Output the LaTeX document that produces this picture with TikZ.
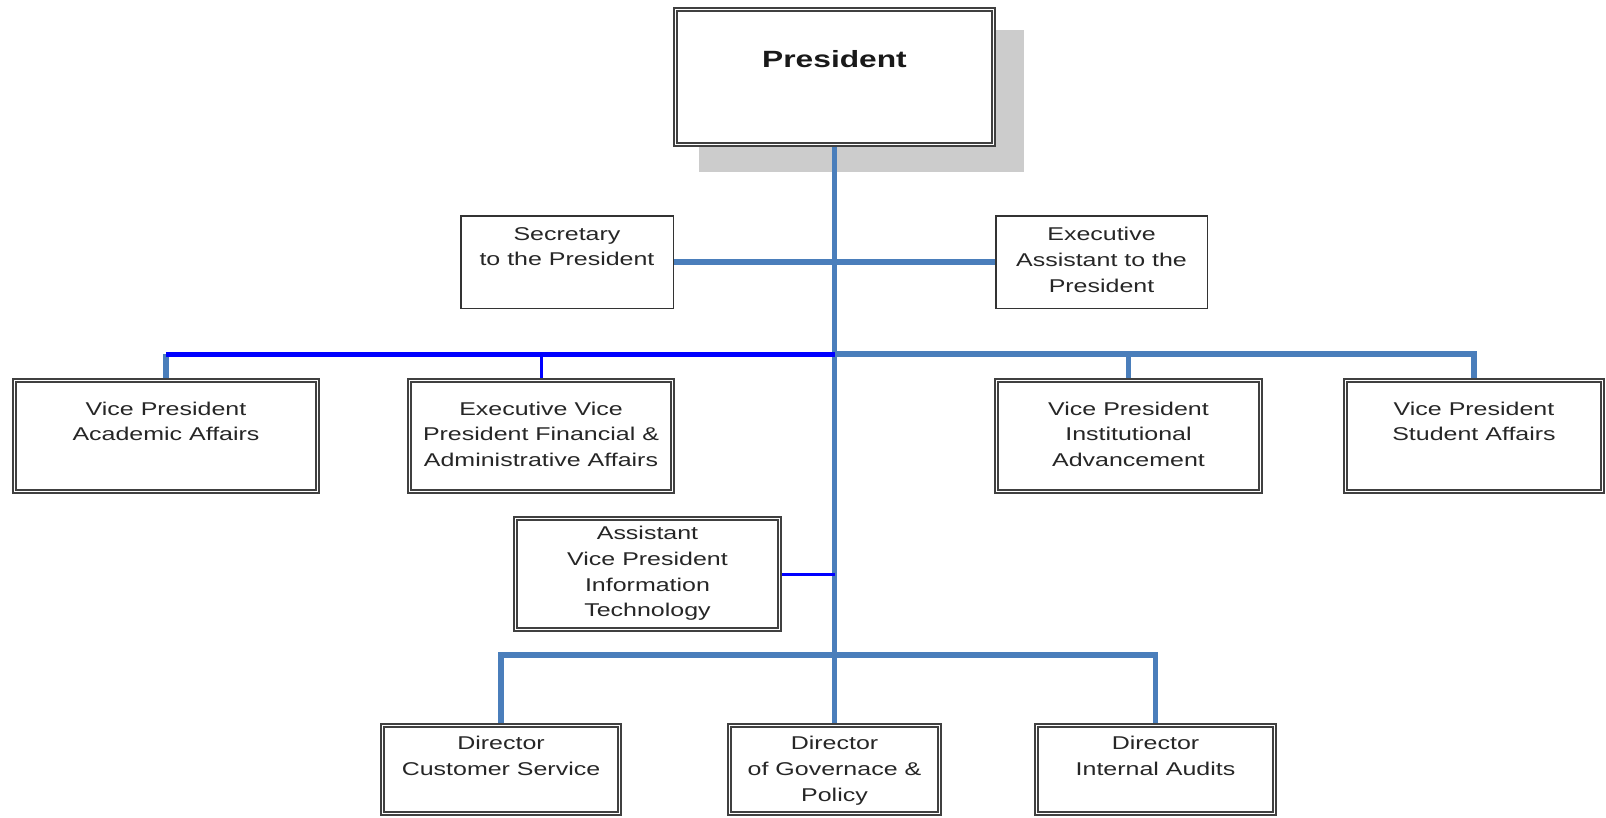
\documentclass[tikz,border=0pt]{standalone}
\usepackage{fontspec}
\setmainfont{Liberation Sans}[FakeStretch=1.35]
\usetikzlibrary{calc}
\pgfdeclarelayer{shadowlayer}
\pgfdeclarelayer{linelayer}
\pgfsetlayers{shadowlayer,linelayer,main}
\definecolor{steelc}{HTML}{4A7EBB}
\definecolor{purec}{HTML}{0000FF}
\tikzset{
  dbox/.style={draw=black!75, double=white, double distance=1.6pt, line width=1.6pt, fill=white, inner sep=0pt},
  sbox/.style={draw=black!80, line width=1.5pt, fill=white, inner sep=0pt},
  lbl/.style={anchor=north, align=center, inner sep=0pt, font=\fontsize{18.5}{25.7}\selectfont, text=black!85},
  boldlbl/.style={anchor=north, align=center, inner sep=0pt, font=\fontsize{23.5}{28}\selectfont\bfseries, text=black!90},
  steel/.style={draw=steelc, line width=5.5pt},
  pure/.style={draw=purec, line width=5pt},
  purethin/.style={draw=purec, line width=3pt},
}
\begin{document}
\begin{tikzpicture}[x=1pt, y=-1pt]
\begin{pgfonlayer}{shadowlayer}
  \path[use as bounding box, fill=white] (0,0) rectangle (1606,817);
\end{pgfonlayer}

% boxes
\node[dbox, minimum width=318.2pt, minimum height=135.2pt] (pres) at (834.5,77) {};
\node[sbox, minimum width=212.5pt, minimum height=92.5pt] (sec) at (567,262) {};
\node[sbox, minimum width=211.5pt, minimum height=92.5pt] (ea) at (1101.5,262) {};
\node[dbox, minimum width=303.2pt, minimum height=111.2pt] (vpa) at (166,436) {};
\node[dbox, minimum width=263.2pt, minimum height=111.2pt] (evp) at (541,436) {};
\node[dbox, minimum width=264.2pt, minimum height=111.2pt] (vpi) at (1128.5,436) {};
\node[dbox, minimum width=257.2pt, minimum height=111.2pt] (vps) at (1474,436) {};
\node[dbox, minimum width=264.2pt, minimum height=111.2pt] (avp) at (647.5,574) {};
\node[dbox, minimum width=237.2pt, minimum height=88.2pt] (dcs) at (501,769.5) {};
\node[dbox, minimum width=210.2pt, minimum height=88.2pt] (dgp) at (834.5,769.5) {};
\node[dbox, minimum width=238.2pt, minimum height=88.2pt] (dia) at (1155.5,769.5) {};

% shadow of the president box
\begin{pgfonlayer}{shadowlayer}
  \fill[black!20] ([xshift=24.6pt,yshift=-26.4pt]pres.south west) rectangle ([xshift=29.4pt,yshift=-21.6pt]pres.north east);
\end{pgfonlayer}

% labels
\node[boldlbl] (tpres) at (834.5,50) {President};
\node[lbl] (tsec) at (567,227) {Secretary\\to the President};
\node[lbl] (tea) at (1101.5,227) {Executive\\Assistant to the\\President};
\node[lbl] (tvpa) at (166,401.5) {Vice President\\Academic Affairs};
\node[lbl] (tevp) at (541,401.5) {Executive Vice\\President Financial \&\\Administrative Affairs};
\node[lbl] (tvpi) at (1128.5,401.5) {Vice President\\Institutional\\Advancement};
\node[lbl] (tvps) at (1474,401.5) {Vice President\\Student Affairs};
\node[lbl] (tavp) at (647.5,526) {Assistant\\Vice President\\Information\\Technology};
\node[lbl] (tdcs) at (501,736) {Director\\Customer Service};
\node[lbl] (tdgp) at (834.5,736) {Director\\of Governace \&\\Policy};
\node[lbl] (tdia) at (1155.5,736) {Director\\Internal Audits};

% connectors
\coordinate (j1) at (834.5,354);
\coordinate (j2) at (834.5,655);
\begin{pgfonlayer}{linelayer}
  \draw[steel] (pres.south) -- (dgp.north);
  \draw[steel] (sec.east) -- (ea.west);
  \draw[steel] (vpa.north) -- (vpa.north |- j1);
  \draw[pure] (vpa.north |- j1) -- (j1);
  \draw[purethin] (evp.north) -- (evp.north |- j1);
  \draw[steel] (j1) -| (vps.north);
  \draw[steel] (vpi.north) -- (vpi.north |- j1);
  \draw[purethin] (avp.east) -- (avp.east -| pres.south);
  \draw[steel] (dcs.north) |- (j2) -| (dia.north);
\end{pgfonlayer}
\end{tikzpicture}
\end{document}
